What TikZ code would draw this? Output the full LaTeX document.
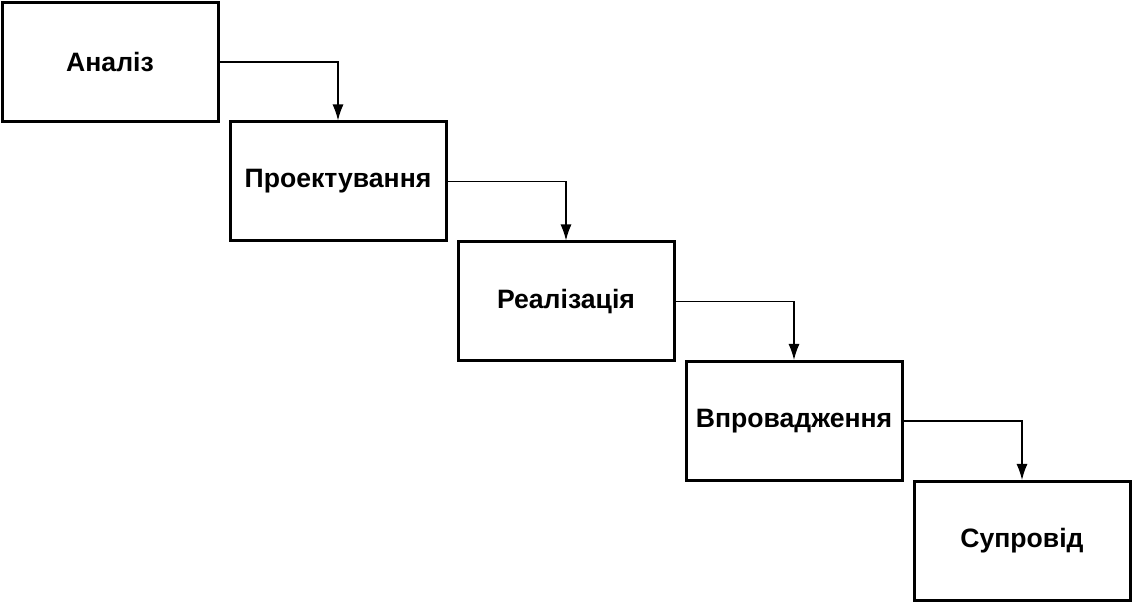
\documentclass[tikz,border=0pt]{standalone}
\usepackage{fontspec}
\setmainfont{Liberation Sans}
\usetikzlibrary{arrows.meta, positioning}

\begin{document}
\begin{tikzpicture}[x=0.5pt, y=-0.5pt]
\tikzset{stage/.style = {draw, line width=1.5pt, minimum width=108pt, minimum height=59.5pt, font=\fontsize{13.3}{15}\selectfont\bfseries}}
\tikzset{flow/.style = {-{Latex[length=8pt,width=5.5pt]}, line width=0.65pt}}
\useasboundingbox (0,0) rectangle (1132,604);
% stages
\node[stage] (an) at (110,62) {Аналіз};
\node[stage] (pr) at (338,181.5) {Проектування};
\node[stage] (re) at (566,301.5) {Реалізація};
\node[stage] (vp) at (794,421) {Впровадження};
\node[stage] (su) at (1022,541) {Супровід};
%arrows
\draw[flow] (an.east) -| (pr.north);
\draw[flow] (pr.east) -| (re.north);
\draw[flow] (re.east) -| (vp.north);
\draw[flow] (vp.east) -| (su.north);
\end{tikzpicture}
\end{document}
